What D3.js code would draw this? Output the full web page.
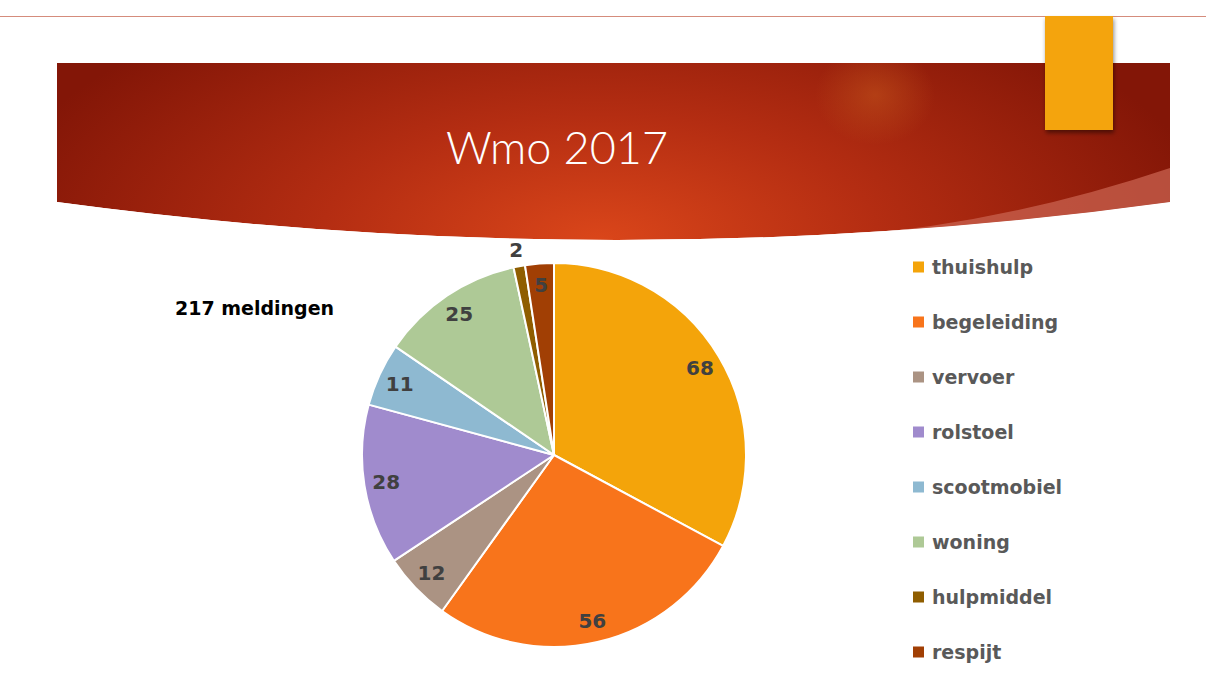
<!DOCTYPE html>
<html>
<head>
<meta charset="utf-8">
<script src="https://cdn.jsdelivr.net/npm/d3@7"></script>
<style>
  body { margin: 0; background: #ffffff; }
  svg { display: block; }
</style>
</head>
<body>
<div id="chart"></div>
<script>
// data van de dia
const categories = ["thuishulp", "begeleiding", "vervoer", "rolstoel", "scootmobiel", "woning", "hulpmiddel", "respijt"];
const values = [68, 56, 12, 28, 11, 25, 2, 5];
const colors = ["#F4A40A", "#F8741B", "#AB9383", "#A08BCD", "#8EB9D1", "#AEC996", "#8F5D00", "#A13F04"];
const title = "Wmo 2017";
const note = "217 meldingen";

const width = 1206;
const height = 686;
const font = "'Century Gothic', 'DejaVu Sans', sans-serif";
const titleFont = "'Century Gothic', 'Lato', sans-serif";

const svg = d3.select("#chart")
  .append("svg")
    .attr("width", width)
    .attr("height", height);

const defs = svg.append("defs");

// de rode band met gebogen onderkant
const banner = "M57,63 L1170,63 L1170,202 Q620,278 57,202 Z";

defs.append("clipPath").attr("id", "bannerClip")
  .append("path").attr("d", banner);

// verloop voor de rode band
const grad = defs.append("radialGradient")
    .attr("id", "bannerGrad")
    .attr("gradientUnits", "userSpaceOnUse")
    .attr("cx", 600).attr("cy", 240)
    .attr("r", 620)
    .attr("gradientTransform", "translate(600,240) scale(1,0.45) translate(-600,-240)");
grad.append("stop").attr("offset", "0%").attr("stop-color", "#DA461A");
grad.append("stop").attr("offset", "45%").attr("stop-color", "#B42D12");
grad.append("stop").attr("offset", "100%").attr("stop-color", "#831607");

const glow = defs.append("radialGradient").attr("id", "glow");
glow.append("stop").attr("offset", "0%").attr("stop-color", "#C0501A").attr("stop-opacity", 0.6);
glow.append("stop").attr("offset", "100%").attr("stop-color", "#C0501A").attr("stop-opacity", 0);

const shadow = defs.append("filter").attr("id", "shadow")
    .attr("x", "-20%").attr("y", "-20%").attr("width", "140%").attr("height", "140%");
shadow.append("feDropShadow")
    .attr("dx", 1).attr("dy", 3).attr("stdDeviation", 2)
    .attr("flood-color", "#000").attr("flood-opacity", 0.45);

// dunne lijn bovenaan
svg.append("line")
    .attr("x1", 0).attr("x2", width)
    .attr("y1", 16.5).attr("y2", 16.5)
    .attr("stroke", "#D58C7C")
    .attr("stroke-width", 1);

const band = svg.append("g").attr("clip-path", "url(#bannerClip)");

band.append("path")
    .attr("d", banner)
    .attr("fill", "url(#bannerGrad)");

band.append("ellipse")
    .attr("cx", 875).attr("cy", 95)
    .attr("rx", 60).attr("ry", 50)
    .attr("fill", "url(#glow)");

// lichte strook rechtsonder
band.append("path")
    .attr("d", "M1170,168 Q1010,222 846,236 L1170,236 Z")
    .attr("fill", "#C8614F")
    .attr("opacity", 0.75);

// oranje blokje rechtsboven
svg.append("rect")
    .attr("x", 1045).attr("y", 16)
    .attr("width", 68).attr("height", 114)
    .attr("fill", "#F4A40A")
    .attr("filter", "url(#shadow)");

// titel
svg.append("text")
    .attr("x", 557).attr("y", 164)
    .attr("text-anchor", "middle")
    .attr("fill", "#ffffff")
    .style("font-family", titleFont)
    .style("font-weight", 300)
    .style("font-size", "45px")
    .text(title);

svg.append("text")
    .attr("x", 175).attr("y", 315)
    .attr("fill", "#000000")
    .style("font-family", font)
    .style("font-weight", "bold")
    .style("font-size", "19px")
    .text(note);

// de taart
const cx = 554, cy = 455, radius = 192;

const pie = d3.pie().sort(null).value(d => d.value);
const arc = d3.arc().innerRadius(0).outerRadius(radius);
const labelArc = d3.arc().innerRadius(170).outerRadius(170);
const outerArc = d3.arc().innerRadius(208).outerRadius(208);

const data = categories.map((c, i) => ({name: c, value: values[i], color: colors[i]}));

const g = svg.append("g")
    .attr("transform", "translate(" + cx + "," + cy + ")");

const slices = pie(data);

g.selectAll("path")
  .data(slices)
  .enter().append("path")
    .attr("d", arc)
    .attr("fill", d => d.data.color)
    .attr("stroke", "#ffffff")
    .attr("stroke-width", 2)
    .attr("stroke-linejoin", "round");

g.selectAll("text")
  .data(slices)
  .enter().append("text")
    .attr("transform", d => {
      const p = d.data.value < 4 ? outerArc.centroid(d) : labelArc.centroid(d);
      return "translate(" + p[0] + "," + p[1] + ")";
    })
    .attr("text-anchor", "middle")
    .attr("dominant-baseline", "central")
    .attr("fill", "#404040")
    .style("font-family", font)
    .style("font-weight", "bold")
    .style("font-size", "20px")
    .text(d => d.data.value);

// legenda
const legend = svg.append("g")
    .attr("transform", "translate(913,267)");

const rows = legend.selectAll("g")
  .data(data)
  .enter().append("g")
    .attr("transform", (d, i) => "translate(0," + (i * 55) + ")");

rows.append("rect")
    .attr("x", 0).attr("y", -5.5)
    .attr("width", 11).attr("height", 11)
    .attr("fill", d => d.color);

rows.append("text")
    .attr("x", 19).attr("y", 0)
    .attr("dominant-baseline", "central")
    .attr("fill", "#595959")
    .style("font-family", font)
    .style("font-weight", "bold")
    .style("font-size", "19px")
    .text(d => d.name);
</script>
</body>
</html>
